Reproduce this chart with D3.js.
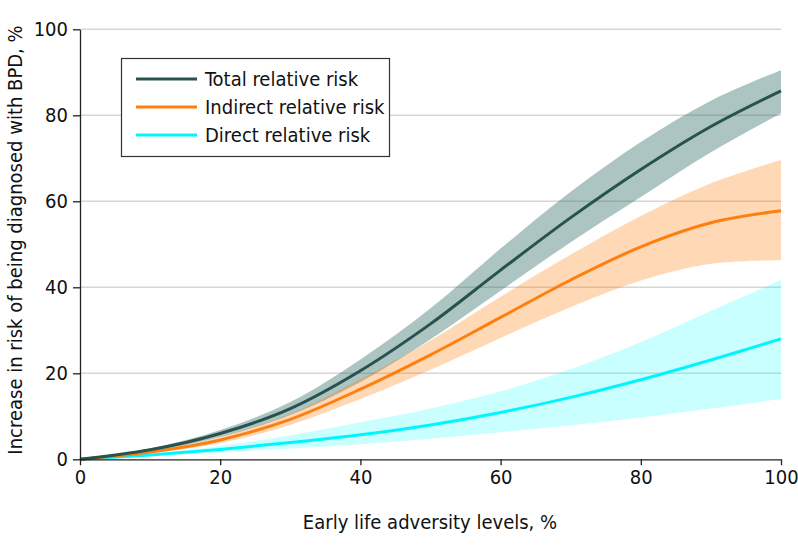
<!DOCTYPE html>
<html><head><meta charset="utf-8">
<script src="https://cdn.jsdelivr.net/npm/d3@7"></script>
<style>
body{margin:0;background:#fff;}
text{font-family:"Liberation Sans Narrow","DejaVu Sans Condensed","Liberation Sans",sans-serif;fill:#111;}
</style></head><body>
<svg id="c" width="798" height="545"></svg>
<script>
const xs = [0,10,20,30,40,50,60,70,80,90,100];
const totalMid = [0,2.2,6.0,11.8,20.6,31.5,44.0,56.2,67.4,77.4,85.7];
const totalUp  = [0,2.5,6.8,13.3,23.2,35.1,49.0,62.2,73.8,83.4,90.5];
const totalLo  = [0,1.9,5.2,10.3,18.0,27.9,39.2,50.5,61.0,71.4,80.5];
const indMid = [0,1.7,4.5,9.3,16.3,24.3,33.0,41.7,49.4,55.0,57.8];
const indUp  = [0,2.0,5.2,10.6,18.6,27.6,37.8,47.6,56.6,64.2,69.6];
const indLo  = [0,1.4,3.8,8.0,14.0,20.8,28.2,35.4,41.6,45.5,46.3];
const dirMid = [0,1.0,2.3,3.9,5.7,8.0,10.9,14.4,18.5,23.1,28.0];
const dirUp  = [0,1.3,3.1,5.6,8.6,11.8,15.8,21.0,27.3,34.5,41.7];
const dirLo  = [0,0.8,1.6,2.5,3.5,4.8,6.3,7.9,9.7,11.8,14.0];
const xTicks = [0,20,40,60,80,100];
const yTicks = [0,20,40,60,80,100];
const seriesNames = ["Total relative risk","Indirect relative risk","Direct relative risk"];

const colors = {line:["#27524f","#ff7f0e","#00f5ff"], band:["#2f6b67","#ff7f0e","#00ffff"], op:[0.4,0.3,0.21]};
const series = [
  {name:seriesNames[0], mid:totalMid, up:totalUp, lo:totalLo},
  {name:seriesNames[1], mid:indMid, up:indUp, lo:indLo},
  {name:seriesNames[2], mid:dirMid, up:dirUp, lo:dirLo}
];

const svg = d3.select("#c");
const x = d3.scaleLinear().domain([0,100]).range([80,781]);
const y = d3.scaleLinear().domain([0,100]).range([459.3,29.3]);
const curve = d3.curveCatmullRom.alpha(0.5);

// gridlines
svg.append("g").selectAll("line").data(yTicks.filter(d=>d>0)).join("line")
  .attr("x1",x(0)).attr("x2",x(100)).attr("y1",d=>y(d)).attr("y2",d=>y(d))
  .attr("stroke","#d6d6d6").attr("stroke-width",1.5);

// bands
const area = d3.area().x((d,i)=>x(xs[i])).y0(d=>y(d[0])).y1(d=>y(d[1])).curve(curve);
series.forEach((s,k)=>{
  const pts = xs.map((_,i)=>[s.lo[i], s.up[i]]);
  svg.append("path").attr("d",area(pts)).attr("fill",colors.band[k]).attr("fill-opacity",colors.op[k]);
});
// lines
const line = d3.line().x((d,i)=>x(xs[i])).y(d=>y(d)).curve(curve);
[2,1,0].forEach(k=>{
  svg.append("path").attr("d",line(series[k].mid)).attr("fill","none")
    .attr("stroke",colors.line[k]).attr("stroke-width",3);
});

// axes
const xAxis = svg.append("g").attr("transform",`translate(0,${y(0)})`)
  .call(d3.axisBottom(x).tickValues(xTicks).tickSize(6).tickPadding(5).tickSizeOuter(0));
const yAxis = svg.append("g").attr("transform",`translate(${x(0)},0)`)
  .call(d3.axisLeft(y).tickValues(yTicks).tickSize(7).tickPadding(5).tickSizeOuter(0));
[xAxis,yAxis].forEach(a=>{
  a.select(".domain").attr("stroke","#222").attr("stroke-width",1.3);
  a.selectAll(".tick line").attr("stroke","#222").attr("stroke-width",1.3);
  a.selectAll("text").style("font-size","20px").style("font-family",null).attr("fill","#111");
});

// axis titles
svg.append("text").attr("x",430).attr("y",529).attr("text-anchor","middle")
  .style("font-size","20px").text("Early life adversity levels, %");
svg.append("text").attr("transform","translate(22,240) rotate(-90)").attr("text-anchor","middle")
  .style("font-size","20px").text("Increase in risk of being diagnosed with BPD, %");

// legend
const lg = svg.append("g");
lg.append("rect").attr("x",121.5).attr("y",58.5).attr("width",268).attr("height",98)
  .attr("fill","#fff").attr("stroke","#333").attr("stroke-width",1.2);
series.forEach((s,k)=>{
  const yy = 79 + k*28;
  lg.append("line").attr("x1",136).attr("x2",197).attr("y1",yy).attr("y2",yy)
    .attr("stroke",colors.line[k]).attr("stroke-width",3);
  lg.append("text").attr("x",205).attr("y",yy).attr("dy","0.35em")
    .style("font-size","20px").text(s.name);
});
</script></body></html>
